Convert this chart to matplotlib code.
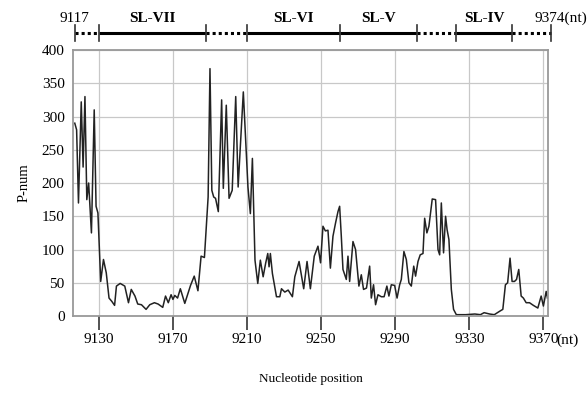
import matplotlib
matplotlib.use('Agg')
from matplotlib import pyplot as plt
from matplotlib import transforms

plt.rcParams['font.family'] = ['Liberation Serif', 'DejaVu Serif']

# profile: nucleotide position / P-num
positions = [
    9117, 9118, 9119, 9120.5, 9121.5, 9122.5, 9123.5, 9124.5, 9126, 9127.5,
    9128.5, 9129.5, 9131, 9132.5, 9134, 9135.5, 9137, 9138.5, 9139.5, 9141.5,
    9144, 9146, 9147.5, 9149.5, 9151, 9153, 9155.5, 9157.5, 9160, 9162,
    9164.5, 9166, 9167.5, 9169, 9170, 9171, 9172.5, 9174, 9176.4, 9179.5,
    9181.5, 9183.5, 9185.2, 9187, 9189, 9190, 9191, 9192, 9193, 9194.5,
    9196.3, 9197.2, 9198.8, 9200.3, 9202, 9203.9, 9205.2, 9208, 9210.5, 9211.8,
    9212.9, 9214.3, 9215.8, 9217.2, 9218.7, 9220.1, 9221.2, 9221.9, 9222.6, 9223.7,
    9225.9, 9227.7, 9228.6, 9230.4, 9232.2, 9234.5, 9235.8, 9238.1, 9240.6, 9242.4,
    9244.2, 9246.3, 9248.3, 9249.7, 9251, 9252.3, 9253.7, 9255, 9256.4, 9257.8,
    9259.1, 9260, 9260.9, 9261.8, 9263.6, 9264.5, 9265.4, 9267.2, 9268.6, 9270.4,
    9271.7, 9272.9, 9274.5, 9276.2, 9277.1, 9278.3, 9279.4, 9280.7, 9282.5, 9284,
    9285.5, 9286.6, 9287.9, 9289.7, 9291, 9292.4, 9293.3, 9294.7, 9296, 9297.4,
    9298.7, 9300, 9301, 9302.3, 9303.5, 9305, 9305.9, 9307.1, 9308.2, 9310,
    9311.8, 9313.1, 9314, 9314.9, 9316.1, 9317.2, 9318, 9319, 9320.3, 9321.5,
    9323, 9328, 9333, 9336, 9338, 9341, 9343.5, 9346.3, 9348.1, 9349.5,
    9350.7, 9352, 9353.1, 9354.4, 9355.5, 9356.7, 9358, 9359.2, 9360.7, 9362.5,
    9364.6, 9367, 9368.8, 9370, 9371.5, 9372.2,
]
p_num = [
    290, 280, 170, 322, 224, 330, 175, 200, 125, 310,
    165, 155, 52, 85, 65, 27, 22, 16, 45, 49,
    45, 20, 40, 30, 18, 17, 10, 17, 20, 18,
    13, 30, 20, 32, 25, 31, 27, 41, 19, 46,
    60, 38, 90, 88, 179, 372, 189, 179, 177, 157,
    325, 192, 317, 177, 189, 330, 194, 337, 194, 154,
    237, 84, 49, 84, 59, 80, 94, 74, 94, 64,
    29, 29, 41, 36, 39, 29, 59, 82, 41, 82,
    41, 90, 105, 80, 135, 128, 129, 72, 120, 140,
    157, 165, 120, 70, 55, 90, 52, 112, 100, 45,
    62, 40, 42, 75, 27, 47, 17, 32, 29, 29,
    45, 30, 47, 46, 27, 47, 55, 97, 85, 50,
    45, 75, 60, 82, 92, 94, 147, 125, 135, 176,
    175, 100, 92, 170, 95, 150, 130, 115, 40, 10,
    2, 2, 3, 2, 5, 3, 2, 7, 10, 47,
    50, 87, 52, 52, 55, 70, 30, 27, 20, 20,
    16, 12, 30, 15, 37, 27,
]

x_ticks = [9130, 9170, 9210, 9250, 9290, 9330, 9370]
y_ticks = [0, 50, 100, 150, 200, 250, 300, 350, 400]

# stem-loop map above the plot
seg_starts = [9117, 9130, 9188, 9210, 9260, 9302, 9323, 9353]
seg_ends = [9130, 9188, 9210, 9260, 9302, 9323, 9353, 9374]
seg_labels = ['', 'SL-VII', '', 'SL-VI', 'SL-V', '', 'SL-IV', '']
seg_solid = [False, True, False, True, True, False, True, False]

fig = plt.figure(figsize=(5.88, 3.97), dpi=100)
ax = fig.add_axes([0.124, 0.204, 0.808, 0.670])

ax.plot(positions, p_num, color='#222222', lw=1.1)
ax.set_xlim(9116, 9372.5)
ax.set_ylim(0, 400)
ax.set_xticks(x_ticks)
ax.set_yticks(y_ticks)
ax.grid(True, color='#c8c8c8', lw=0.9)
ax.set_axisbelow(True)
for sp in ax.spines.values():
    sp.set_color('#999999')
    sp.set_linewidth(1.3)
ax.tick_params(axis='x', length=10, width=1.3, color='#444444', labelsize=11, pad=2)
ax.tick_params(axis='y', length=0, labelsize=11, pad=6)

ax.text(1.018, -0.092, '(nt)', transform=ax.transAxes, fontsize=11, va='center', ha='left')
ax.set_xlabel('Nucleotide position', fontsize=9.5, labelpad=20)
ax.set_ylabel('P-num', fontsize=10.5, labelpad=8)

# top bar
tr = transforms.blended_transform_factory(ax.transData, ax.transAxes)
bar_y = 1.064
for s, e, lab, solid in zip(seg_starts, seg_ends, seg_labels, seg_solid):
    if solid:
        ax.plot([s, e], [bar_y, bar_y], transform=tr, color='black', lw=2.2,
                solid_capstyle='butt', clip_on=False)
    else:
        ax.plot([s, e], [bar_y, bar_y], transform=tr, color='black', lw=2.2,
                linestyle=(0, (1, 1)), clip_on=False)
    if lab:
        ax.text((s + e) / 2, 1.118, lab, transform=tr, ha='center', va='center',
                fontsize=11, fontweight='bold', clip_on=False)
for b in sorted(set(seg_starts + seg_ends)):
    ax.plot([b, b], [bar_y - 0.03, bar_y + 0.03], transform=tr, color='#333333',
            lw=1.2, clip_on=False)

ax.text(seg_starts[0], 1.118, str(seg_starts[0]), transform=tr, ha='center',
        va='center', fontsize=11)
ax.text(seg_ends[-1] - 9, 1.118, '%d(nt)' % seg_ends[-1], transform=tr, ha='left',
        va='center', fontsize=11)

fig.savefig('out.png', dpi=100)
